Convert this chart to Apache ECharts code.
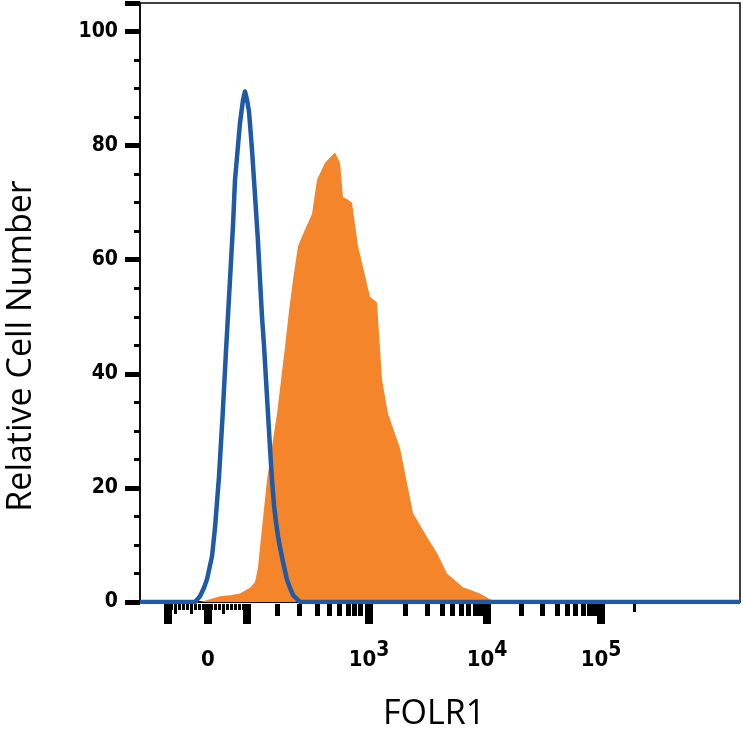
<!DOCTYPE html>
<html><head><meta charset="utf-8">
<script src="https://cdn.jsdelivr.net/npm/echarts@6/dist/echarts.min.js"></script>
<style>html,body{margin:0;padding:0;background:#fff}#c{width:743px;height:743px}</style>
</head><body><div id="c"></div>
<script>
// x in display channel units (0..600), y = relative cell number
const isotypeX = [0,55,60,64,67,72,75,79,82.7,86,90,93,95,98,100,103,105,107,109,111.7,114,117.7,120,122,124,126,128,130,132,134,136,138,140,143,147,150,153,160,600];
const isotypeY = [0,0,1,2.5,4,8,13,22,33,44,56.5,66,74,80,84,88,89.5,88,86,80,74,64,56.5,50,45,39,33,27,21.4,17,14,11.5,9.6,7,3.9,2.5,1.2,0,0];
const folr1X = [0,60,70,80,90,100,105,110,115,118,120,127,137,145,149,153,158,165,172,177,185,195,200,203,208,212,218,230,237,242,248,260,273,287,297,307,323,340,350,360,600];
const folr1Y = [0,0,0.5,1,1.2,1.5,2,2.5,3.5,6,9.6,21.4,33,44.7,51,56.5,62.4,65.3,68,74,77,78.8,77,71,70.5,70,62.4,53.5,52.5,39,33,27,15.6,11.4,8.6,5,2.6,1.5,0.5,0,0];
const xTicks = [
  [28,20],[68,20],[107,20],[229,20],[347,20],[461,20],
  [137,12],[159,12],[177,12],[189,12],[199,12],[208,12],[214,12],[220,12],
  [265,12],[287,12],[302,12],[312,12],[321,12],[328,12],[335,12],[340,12],
  [381,12],[402,12],[417,12],[427,12],[435,12],[443,12],[449,12],[454,12],[495,8],
  [32,6],[36,10],[40,6],[44,6],[48,6],[52,10],[56,6],[60,6],[64,6],[72,6],[76,6],[80,6],[84,10],[88,6],[92,6],[96,6],[100,6],[104,6]
];
const xLabels = [[68,'0',''],[229,'10','3'],[347,'10','4'],[461,'10','5']];

const chart = echarts.init(document.getElementById('c'));
chart.setOption({
  animation:false,
  grid:{left:140,right:3,top:3,bottom:141,outerBoundsMode:'none',containLabel:false,show:true,borderColor:'#000',borderWidth:1.5},
  xAxis:{type:'value',min:0,max:600,axisLine:{show:true,lineStyle:{color:'#000',width:1.5}},axisTick:{show:false},axisLabel:{show:false},splitLine:{show:false}},
  yAxis:{type:'value',min:0,max:105,interval:20,
    axisLine:{show:true,lineStyle:{color:'#000',width:1.5}},
    axisTick:{show:true,length:15,lineStyle:{color:'#000',width:5}},
    minorTick:{show:true,splitNumber:4,length:6,lineStyle:{color:'#000',width:3}},
    axisLabel:{margin:22,showMaxLabel:false,fontFamily:'DejaVu Sans Condensed',fontWeight:'bold',fontSize:21,color:'#000'},
    splitLine:{show:false}},
  series:[
    {type:'line',data:folr1X.map((x,i)=>[x,folr1Y[i]]),showSymbol:false,lineStyle:{width:0},
     areaStyle:{color:'#f4852a',opacity:1},z:2},
    {type:'line',data:isotypeX.map((x,i)=>[x,isotypeY[i]]),showSymbol:false,
     lineStyle:{color:'#1f5aa6',width:4.5,join:'round'},z:3},
    {type:'custom',clip:false,silent:true,z:1,data:xTicks,
     renderItem:(p,api)=>{const pt=api.coord([api.value(0),0]);const L=api.value(1);
       return {type:'rect',shape:{x:pt[0]-(L>15?4:2),y:pt[1]+2,width:L>15?8:(L>10?5:3),height:L},style:{fill:'#000'}};}},
    {type:'custom',clip:false,silent:true,z:1,data:xLabels,
     renderItem:(p,api)=>{const d=xLabels[p.dataIndex];const pt=api.coord([d[0],0]);
       return {type:'text',x:pt[0],y:pt[1]+58,style:{text:d[2]?d[1]+'{s|'+d[2]+'}':d[1],
         fontFamily:'DejaVu Sans Condensed',fontWeight:'bold',fontSize:22,fill:'#000',align:'center',verticalAlign:'middle',
         rich:{s:{fontFamily:'DejaVu Sans Condensed',fontWeight:'bold',fontSize:21,verticalAlign:'bottom',padding:[0,0,18,0]}}}};}}
  ],
  graphic:[
    {type:'text',x:383,y:697,style:{text:'FOLR1',fontFamily:'Open Sans',fontSize:34,fill:'#000'}},
    {type:'text',x:21,y:346,rotation:Math.PI/2,style:{text:'Relative Cell Number',fontFamily:'Open Sans',fontSize:34,fill:'#000',align:'center',verticalAlign:'middle'}}
  ]
});
</script></body></html>
